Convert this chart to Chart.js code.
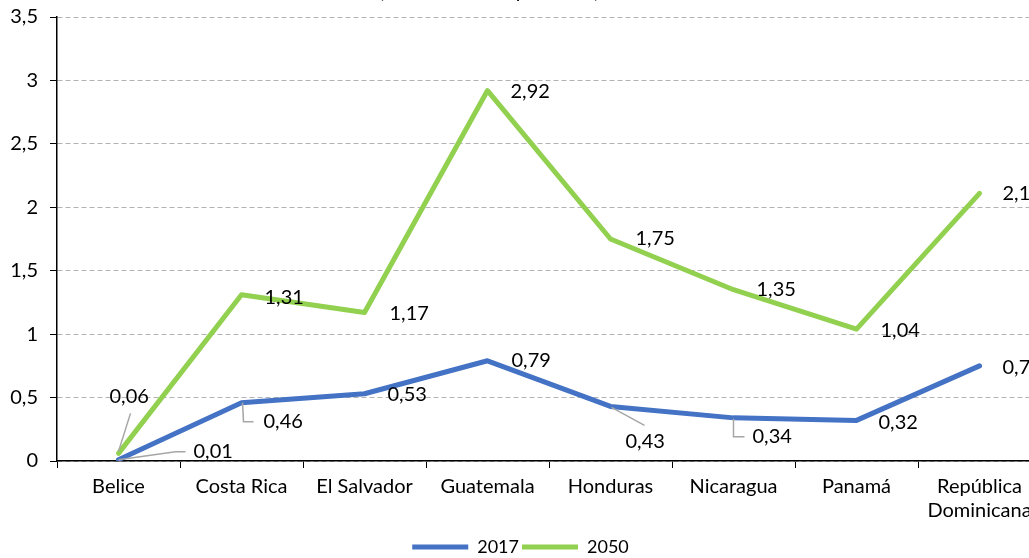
<!DOCTYPE html>
<html>
<head>
<meta charset="utf-8">
<script src="https://cdn.jsdelivr.net/npm/chart.js@4"></script>
<style>
  html, body { margin: 0; padding: 0; background: #fff; overflow: hidden; }
  #chart { display: block; }
</style>
</head>
<body>
<canvas id="chart" width="1060" height="558"></canvas>
<script>
// valores
var paises = ["Belice", "Costa Rica", "El Salvador", "Guatemala", "Honduras", "Nicaragua", "Panamá", ["República", "Dominicana"]];
var serie2017 = [0.01, 0.46, 0.53, 0.79, 0.43, 0.34, 0.32, 0.75];
var serie2050 = [0.06, 1.31, 1.17, 2.92, 1.75, 1.35, 1.04, 2.11];
var ticksY = [0, 0.5, 1, 1.5, 2, 2.5, 3, 3.5];

// posición de las etiquetas respecto al punto: [dx, dy, linea guía]
var etiq2017 = [
  [75, -8, [[0, 0], [57, -8], [67, -8]]],
  [22, 19, [[1, 0], [2, 19], [12, 19]]],
  [23, 1], [24, 0],
  [15, 35, [[1, 1], [34, 19]]],
  [19, 19, [[0, 1], [0, 19], [11, 19]]],
  [22, 2], [23, 2]
];
var etiq2050 = [
  [-9, -57, [[0, -2], [12, -40]]],
  [23, 3], [25, 1], [23, 1], [25, 0], [23, 0], [24, 1], [23, 0]
];

function coma(v) {
  return String(v).replace('.', ',');
}

var fuente = "Lato, 'Open Sans', sans-serif";

var etiquetas = {
  id: 'etiquetas',
  afterDatasetsDraw: function(chart) {
    var ctx = chart.ctx;
    var conf = [etiq2017, etiq2050];
    ctx.save();
    ctx.font = "20px " + fuente;
    ctx.textAlign = "left";
    ctx.textBaseline = "middle";
    chart.data.datasets.forEach(function(ds, d) {
      var meta = chart.getDatasetMeta(d);
      meta.data.forEach(function(pt, i) {
        var c = conf[d][i];
        if (c[2]) {
          ctx.strokeStyle = "#a6a6a6";
          ctx.lineWidth = 1.5;
          ctx.beginPath();
          c[2].forEach(function(p, k) {
            if (k == 0) ctx.moveTo(pt.x + p[0], pt.y + p[1]);
            else ctx.lineTo(pt.x + p[0], pt.y + p[1]);
          });
          ctx.stroke();
        }
        ctx.fillStyle = "#000";
        ctx.fillText(coma(ds.data[i]), pt.x + c[0], pt.y + c[1]);
      });
    });
    ctx.restore();
  }
};

// título cortado en el borde superior
var tituloCortado = {
  id: 'tituloCortado',
  afterDraw: function(chart) {
    var ctx = chart.ctx;
    ctx.save();
    ctx.font = "20px " + fuente;
    ctx.textAlign = "center";
    ctx.textBaseline = "alphabetic";
    ctx.fillStyle = "#000";
    ctx.fillText("(En millones de personas)", 489, -2);
    ctx.restore();
  }
};

new Chart(document.getElementById("chart"), {
  type: 'line',
  data: {
    labels: paises,
    datasets: [{
      label: '2017',
      data: serie2017,
      borderColor: '#4472C4',
      backgroundColor: '#4472C4',
      borderWidth: 5,
      borderCapStyle: 'round',
      borderJoinStyle: 'round',
      pointRadius: 0,
      pointStyle: 'line',
      tension: 0
    }, {
      label: '2050',
      data: serie2050,
      borderColor: '#92D050',
      backgroundColor: '#92D050',
      borderWidth: 5,
      borderCapStyle: 'round',
      borderJoinStyle: 'round',
      pointRadius: 0,
      pointStyle: 'line',
      tension: 0
    }]
  },
  options: {
    responsive: false,
    devicePixelRatio: 1,
    animation: false,
    layout: { padding: { top: 17, left: 0, right: 19, bottom: -8 } },
    plugins: {
      legend: {
        position: 'bottom',
        labels: {
          usePointStyle: true,
          pointStyleWidth: 56,
          padding: 3,
          color: '#000',
          font: { family: fuente, size: 18 }
        }
      },
      tooltip: { enabled: false }
    },
    scales: {
      x: {
        offset: true,
        grid: {
          offset: true,
          drawOnChartArea: false,
          tickLength: 7,
          tickColor: '#000'
        },
        border: { color: '#000', width: 1.5 },
        ticks: {
          color: '#000',
          padding: 7,
          maxRotation: 0,
          font: { family: fuente, size: 20, lineHeight: 1.2 }
        },
        afterFit: function(s) { s.height = 74; }
      },
      y: {
        min: 0,
        max: 3.5,
        afterBuildTicks: function(s) {
          s.ticks = ticksY.map(function(v) { return { value: v }; });
        },
        grid: {
          color: '#b3b3b3',
          lineWidth: 1,
          tickLength: 7,
          tickColor: '#000',
          tickBorderDash: []
        },
        border: { color: '#000', width: 1.5, dash: [5, 3] },
        ticks: {
          color: '#000',
          padding: 12,
          font: { family: fuente, size: 20 },
          callback: function(v) { return coma(v); }
        },
        afterFit: function(s) {
          s.width = 57;
          s.paddingTop = 0;
          s.paddingBottom = 0;
        }
      }
    }
  },
  plugins: [etiquetas, tituloCortado]
});
</script>
</body>
</html>
